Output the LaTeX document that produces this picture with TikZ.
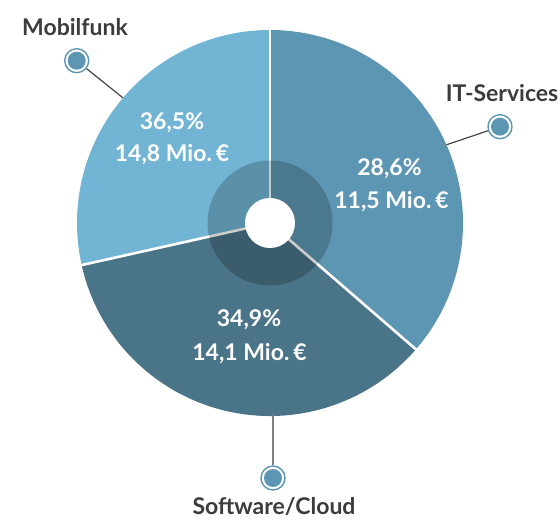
\documentclass[tikz,border=0pt]{standalone}
\usepackage{fontspec}
\setmainfont{Lato}
\usetikzlibrary{calc}
\definecolor{mobc}{RGB}{114,180,212}
\definecolor{itc}{RGB}{93,150,178}
\definecolor{swc}{RGB}{74,116,136}
\definecolor{labc}{RGB}{60,60,60}
\definecolor{linec}{RGB}{70,70,70}
\tikzset{
  x=1bp, y=1bp,
  val/.style={text=white, font=\fontsize{23bp}{27bp}\selectfont\bfseries, anchor=base, inner sep=0},
  lab/.style={text=labc, font=\fontsize{23bp}{27bp}\selectfont\bfseries, anchor=base, inner sep=0},
  marker/.style={circle, draw=itc, line width=1.4bp, fill=white, minimum size=24bp, inner sep=0,
    path picture={\fill[itc] (path picture bounding box.center) circle (9bp);}},
  sep/.style={white, line width=2.6bp},
  conn/.style={linec, line width=1.2bp},
}
\begin{document}
\begin{tikzpicture}
\useasboundingbox (0,0) rectangle (560,520);
\coordinate (C) at (270,297);
% slices
\fill[mobc] (C) -- ++(90:193) arc[start angle=90, end angle=192.6, radius=193] -- cycle;
\fill[swc] (C) -- ++(192.6:193) arc[start angle=192.6, end angle=319.1, radius=193] -- cycle;
\fill[itc] (C) -- ++(319.1:193) arc[start angle=319.1, end angle=450, radius=193] -- cycle;
% separators
\draw[sep] (C) -- ++(90:194);
\draw[sep] (C) -- ++(192.6:194);
\draw[sep] (C) -- ++(319.1:194);
% inner ring and hole
\fill[black, opacity=0.2] (C) circle (62.5);
\fill[white] (C) circle (25);
% values
\node[val] (v1a) at (172,390) {36,5\%};
\node[val] (v1b) at (172,358) {14,8 Mio.\,€};
\node[val] (v2a) at (389.5,344) {28,6\%};
\node[val] (v2b) at (391.5,311.5) {11,5 Mio.\,€};
\node[val] (v3a) at (249,193) {34,9\%};
\node[val] (v3b) at (249.5,159.5) {14,1 Mio.\,€};
% edge points
\coordinate (mobE) at ($(C)+(139.6:193)$);
\coordinate (itE) at ($(C)+(23.9:193)$);
\coordinate (swE) at (273,104.5);
% markers
\node[marker] (mobM) at (76.7,459.3) {};
\node[marker] (itM) at (500,393.3) {};
\node[marker] (swM) at (273,42) {};
\draw[conn] (mobE) -- (mobM);
\draw[conn] (itE) -- (itM);
\draw[conn, draw=gray] (swE) -- (swM);
% labels
\node[lab] (mobL) at (75,484.5) {Mobilfunk};
\node[lab] (itL) at (502,418.3) {IT-Services};
\node[lab] (swL) at (274,5) {Software/Cloud};
\end{tikzpicture}
\end{document}
